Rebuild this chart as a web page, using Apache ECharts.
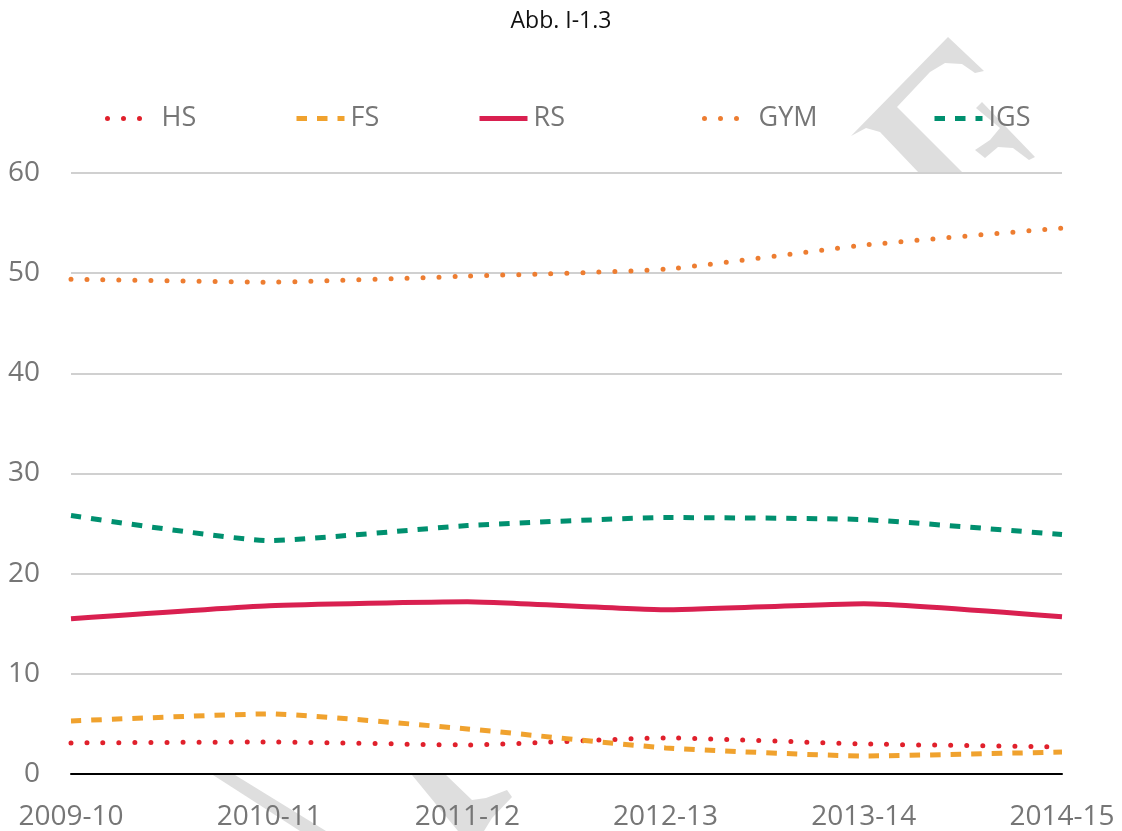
<!DOCTYPE html>
<html>
<head>
<meta charset="utf-8">
<script src="https://cdn.jsdelivr.net/npm/echarts@6/dist/echarts.min.js"></script>
<style>
html,body{margin:0;padding:0;background:#fff;}
#chart{width:1122px;height:831px;}
</style>
</head>
<body>
<div id="chart"></div>
<script>
const years = ['2009-10','2010-11','2011-12','2012-13','2013-14','2014-15'];
const hs  = [3.1, 3.2, 2.9, 3.6, 3.0, 2.7];
const fs  = [5.3, 6.0, 4.5, 2.6, 1.8, 2.2];
const rs  = [15.5, 16.8, 17.2, 16.4, 17.0, 15.7];
const gym = [49.4, 49.1, 49.7, 50.4, 52.8, 54.5];
const igs = [25.8, 23.3, 24.8, 25.6, 25.4, 23.9];
const seriesNames = ['HS','FS','RS','GYM','IGS'];

const FONT = '"Open Sans", "DejaVu Sans", sans-serif';
const GREY = '#767676';

const dotted = {type:[0,16], cap:'round', width:5};
const dashed = {type:[10.5,10], cap:'butt', width:5};

function mkSeries(name, data, color, style){
  return {
    name, type:'line', data, smooth:0.15, symbol:'none',
    lineStyle: Object.assign({color}, style),
    itemStyle:{color},
    emphasis:{disabled:true}
  };
}

const legendLefts = [105, 294, 477, 702, 932];
const legends = seriesNames.map((n,i)=>({
  data:[n], left:legendLefts[i], top:105, padding:0,
  itemWidth:48, itemHeight:14, itemGap:0,
  selectedMode:false,
  textStyle:{fontFamily:FONT, fontSize:27, color:GREY, lineHeight:27, padding:[0,0,0,1]},
  itemStyle:{opacity:0, color:'transparent', borderWidth:0},
  lineStyle:{width:5}
}));

const wm = '#dedede';
const chart = echarts.init(document.getElementById('chart'), null, {renderer:'canvas'});
chart.setOption({
  backgroundColor:'#fff',
  animation:false,
  title:{text:'Abb. I-1.3', left:'center', top:5,
    textStyle:{fontFamily:FONT, fontSize:23, fontWeight:'normal', color:'#111'}},
  graphic:[
    {type:'polygon', z:-10, silent:true, shape:{points:[
      [948,37],[984,71],[975,73],[962,64],[945,63],[930,72],[897,107],[963,173],[919,173],[880,132],[866,128],[851,136]
    ]}, style:{fill:wm}},
    {type:'polygon', z:-10, silent:true, shape:{points:[
      [982,102],[1035,157],[1029,160],[1013,148],[998,147],[985,158],[975,150],[990,140],[1000,128],[976,108]
    ]}, style:{fill:wm}},
    {type:'polygon', z:-10, silent:true, shape:{points:[
      [213,775],[235,775],[326,831],[300,831]
    ]}, style:{fill:wm}},
    {type:'polygon', z:-10, silent:true, shape:{points:[
      [412,775],[446,775],[472,800],[486,798],[507,790],[512,797],[492,818],[484,831],[458,831]
    ]}, style:{fill:wm}}
  ],
  legend: legends,
  grid:{left:71, right:60, top:173, bottom:57, containLabel:false},
  xAxis:{
    type:'category', data:years, boundaryGap:false,
    axisLine:{show:true, lineStyle:{color:'#000', width:2}},
    axisTick:{show:false},
    axisLabel:{fontFamily:FONT, fontSize:28, color:GREY, margin:29, lineHeight:28},
    splitLine:{show:false}
  },
  yAxis:{
    type:'value', min:0, max:60, interval:10,
    axisLine:{show:false}, axisTick:{show:false},
    axisLabel:{fontFamily:FONT, fontSize:28, color:GREY, margin:31},
    splitLine:{show:true, lineStyle:{color:'#d0d0d0', width:2}}
  },
  series:[
    mkSeries('HS', hs, '#E0202B', dotted),
    mkSeries('FS', fs, '#F0A22E', dashed),
    mkSeries('RS', rs, '#D92050', {type:'solid', width:5, cap:'butt'}),
    mkSeries('GYM', gym, '#ED7D31', dotted),
    mkSeries('IGS', igs, '#00906F', dashed)
  ]
});
</script>
</body>
</html>
